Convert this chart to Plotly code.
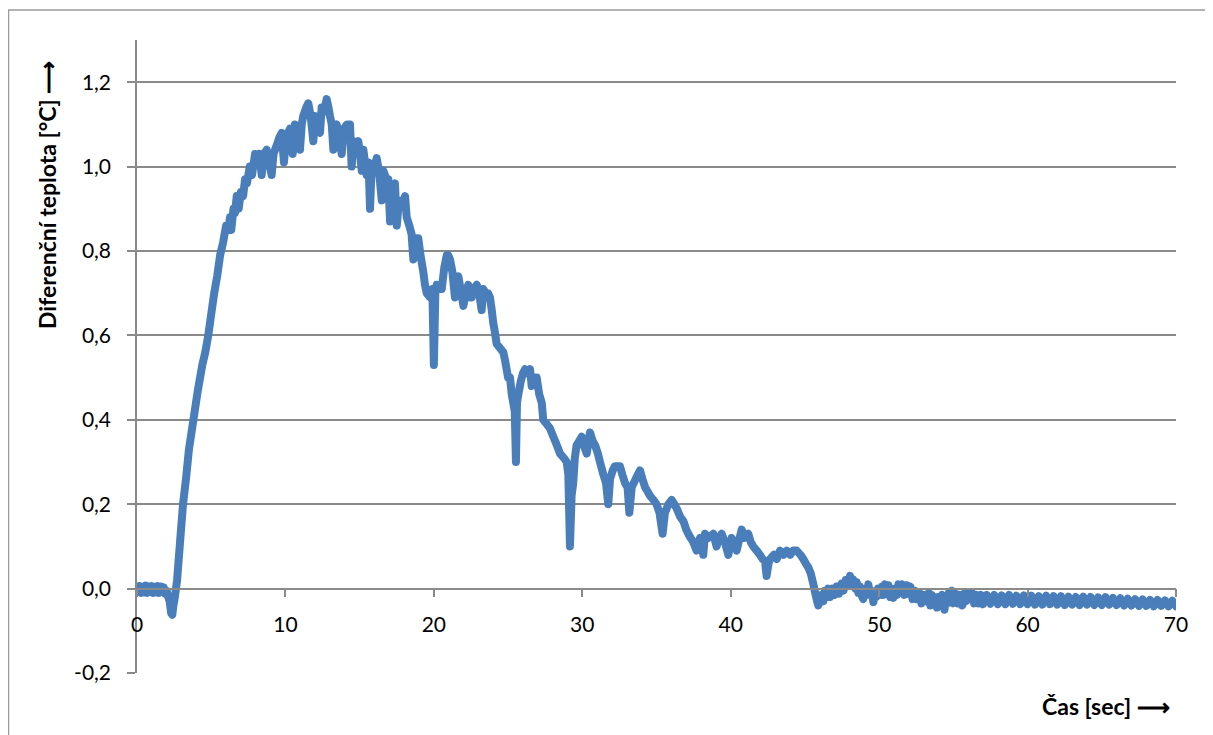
import plotly.graph_objects as go

# --- data ---
time_s = [
    0.0, 0.1, 0.2, 0.3, 0.4, 0.5, 0.6, 0.7, 0.8, 0.9, 1.0, 1.1, 1.2, 1.3, 1.4, 1.5, 1.6, 1.7,
    1.8, 1.9, 2.0, 2.1, 2.2, 2.3, 2.38, 2.45, 2.55, 2.7, 2.9,
    3.1, 3.3, 3.5, 3.8, 4.1, 4.4, 4.6, 4.8, 5.0, 5.2, 5.4, 5.6, 5.8, 6.0, 6.15, 6.27, 6.35,
    6.5, 6.6, 6.72, 6.85, 7.0, 7.15, 7.28, 7.4, 7.6, 7.75, 7.95, 8.1, 8.25, 8.4, 8.55, 8.74,
    8.9, 9.07, 9.2, 9.41, 9.6, 9.75, 9.9, 10.05, 10.31, 10.49, 10.64, 10.8, 10.98, 11.1, 11.2,
    11.4, 11.54, 11.7, 11.88, 11.99, 12.15, 12.33, 12.44, 12.6, 12.78, 12.9, 13.0, 13.12,
    13.23, 13.35, 13.45, 13.6, 13.79, 13.95, 14.15, 14.35, 14.46, 14.6, 14.75, 14.91, 15.03,
    15.14, 15.25, 15.47, 15.6, 15.7, 15.8, 16.0, 16.15, 16.3, 16.49, 16.6, 16.8, 16.93, 17.05,
    17.2, 17.38, 17.5, 17.65, 17.85, 18.06, 18.17, 18.35, 18.5, 18.62, 18.75, 18.95, 19.1,
    19.29, 19.4, 19.52, 19.74, 19.9, 20.0, 20.1, 20.19, 20.35, 20.53, 20.7, 20.87, 20.97,
    21.09, 21.25, 21.42, 21.55, 21.65, 21.8, 21.99, 22.15, 22.32, 22.45, 22.55, 22.7, 22.89,
    23.05, 23.22, 23.33, 23.5, 23.65, 23.78, 23.9, 24.0, 24.1, 24.23, 24.45, 24.68, 24.8,
    24.9, 25.0, 25.13, 25.25, 25.35, 25.45, 25.53, 25.6, 25.69, 25.85, 26.0, 26.14, 26.3,
    26.48, 26.59, 26.75, 26.93, 27.1, 27.27, 27.37, 27.6, 27.82, 28.05, 28.28, 28.5, 28.75,
    28.95, 29.06, 29.17, 29.28, 29.39, 29.5, 29.62, 29.8, 29.96, 30.1, 30.3, 30.52, 30.7,
    30.86, 31.05, 31.19, 31.42, 31.6, 31.75, 31.87, 32.05, 32.2, 32.4, 32.54, 32.7, 32.88,
    33.05, 33.17, 33.33, 33.6, 33.89, 34.05, 34.23, 34.4, 34.56, 34.8, 35.0, 35.2, 35.41,
    35.57, 35.8, 36.02, 36.2, 36.36, 36.6, 36.81, 37.0, 37.14, 37.3, 37.48, 37.7, 37.93,
    38.05, 38.15, 38.27, 38.5, 38.83, 39.05, 39.2, 39.39, 39.6, 39.84, 40.06, 40.2, 40.4,
    40.6, 40.74, 40.9, 41.18, 41.35, 41.52, 41.75, 41.97, 42.15, 42.31, 42.42, 42.55, 42.65,
    42.9, 43.1, 43.32, 43.55, 43.77, 44.0, 44.2, 44.44, 44.7, 44.89, 45.05, 45.23, 45.4,
    45.57, 45.75, 45.9, 46.0, 46.13, 46.25, 46.35, 46.5, 46.57, 46.7, 46.85, 47.0, 47.14,
    47.3, 47.48, 47.6, 47.75, 47.9, 48.04, 48.15, 48.25, 48.4, 48.49, 48.6, 48.7, 48.8,
    48.93, 49.05, 49.15, 49.27, 49.4, 49.5, 49.61, 49.7, 49.8, 49.93, 50.06, 50.2, 50.3,
    50.4, 50.51, 50.62, 50.75, 50.85, 50.96, 51.1, 51.2, 51.3, 51.4, 51.55, 51.7, 51.85,
    51.96, 52.1, 52.25, 52.4, 52.53, 52.7, 52.85, 53.0, 53.2, 53.35, 53.45, 53.55, 53.65,
    53.8, 53.9, 54.0, 54.1, 54.25, 54.4, 54.5, 54.6, 54.7, 54.8, 54.9, 55.0, 55.15, 55.3,
    55.45, 55.6, 55.75, 55.85, 55.95, 56.1, 56.25, 56.4, 56.55, 56.7, 56.85, 57.0, 57.25,
    57.5, 57.75, 58.0, 58.25, 58.5, 58.75, 59.0, 59.25, 59.5, 59.75, 60.0, 60.25, 60.5,
    60.75, 61.0, 61.25, 61.5, 61.75, 62.0, 62.25, 62.5, 62.75, 63.0, 63.25, 63.5, 63.75,
    64.0, 64.25, 64.5, 64.75, 65.0, 65.25, 65.5, 65.75, 66.0, 66.25, 66.5, 66.75, 67.0,
    67.25, 67.5, 67.75, 68.0, 68.25, 68.5, 68.75, 69.0, 69.25, 69.5, 69.75, 70.0,
]

diff_temp = [
    0.005, -0.008, 0.006, -0.01, 0.004, -0.009, 0.007, -0.01, 0.005, -0.008, 0.006, -0.01,
    0.004, -0.009, 0.006, -0.01, 0.005, -0.008, 0.003, -0.012, -0.005, -0.02, -0.03, -0.058,
    -0.062, -0.04, -0.02, 0.02, 0.11,
    0.2, 0.26, 0.33, 0.40, 0.47, 0.53, 0.56, 0.60, 0.65, 0.70, 0.74, 0.79, 0.82, 0.86, 0.85,
    0.88, 0.85, 0.90, 0.89, 0.93, 0.90, 0.94, 0.93, 0.97, 0.96, 1.00, 0.98, 1.03, 1.01, 1.03,
    0.98, 1.03, 1.04, 1.01, 0.98, 1.03, 1.05, 1.07, 1.08, 1.01, 1.07, 1.09, 1.03, 1.10, 1.08,
    1.04, 1.10, 1.12, 1.14, 1.15, 1.12, 1.06, 1.12, 1.10, 1.08, 1.14, 1.13, 1.16, 1.14, 1.12,
    1.10, 1.04, 1.09, 1.10, 1.08, 1.03, 1.09, 1.10, 1.10, 1.00, 1.06, 1.05, 1.06, 1.03, 0.99,
    1.04, 0.98, 1.01, 0.90, 0.99, 1.00, 1.02, 0.99, 0.92, 0.99, 0.97, 0.97, 0.87, 0.95, 0.96,
    0.86, 0.92, 0.91, 0.93, 0.88, 0.86, 0.84, 0.78, 0.83, 0.83, 0.79, 0.75, 0.72, 0.70, 0.69,
    0.71, 0.53, 0.70, 0.72, 0.71, 0.71, 0.76, 0.79, 0.79, 0.78, 0.75, 0.69, 0.73, 0.74, 0.71,
    0.67, 0.70, 0.72, 0.69, 0.69, 0.71, 0.72, 0.70, 0.66, 0.71, 0.70, 0.70, 0.69, 0.66, 0.63,
    0.61, 0.58, 0.57, 0.56, 0.54, 0.52, 0.50, 0.50, 0.46, 0.44, 0.42, 0.30, 0.44, 0.46, 0.49,
    0.51, 0.52, 0.51, 0.52, 0.48, 0.50, 0.50, 0.46, 0.44, 0.40, 0.39, 0.38, 0.36, 0.34, 0.32,
    0.31, 0.30, 0.27, 0.10, 0.22, 0.25, 0.31, 0.34, 0.35, 0.36, 0.34, 0.32, 0.37, 0.35, 0.34,
    0.32, 0.30, 0.27, 0.25, 0.20, 0.26, 0.28, 0.29, 0.29, 0.29, 0.27, 0.25, 0.24, 0.18, 0.24,
    0.26, 0.28, 0.26, 0.24, 0.23, 0.22, 0.21, 0.20, 0.18, 0.13, 0.18, 0.20, 0.21, 0.20, 0.19,
    0.17, 0.16, 0.14, 0.13, 0.12, 0.11, 0.09, 0.12, 0.11, 0.08, 0.13, 0.12, 0.13, 0.10, 0.12,
    0.13, 0.11, 0.08, 0.12, 0.11, 0.09, 0.12, 0.14, 0.12, 0.13, 0.11, 0.10, 0.09, 0.08, 0.07,
    0.065, 0.03, 0.06, 0.07, 0.08, 0.07, 0.09, 0.08, 0.09, 0.08, 0.09, 0.09, 0.08, 0.07, 0.06,
    0.05, 0.035, 0.01, -0.02, -0.04, -0.03, -0.015, -0.03, -0.005, -0.02, 0.0, -0.02, 0.0,
    -0.015, 0.005, -0.012, 0.012, -0.005, 0.02, 0.01, 0.03, 0.01, 0.022, 0.0, 0.015, -0.01,
    0.005, -0.015, -0.025, 0.0, -0.015, 0.01, -0.015, -0.005, -0.032, -0.01, -0.02, 0.0,
    -0.015, 0.005, -0.015, 0.01, -0.01, 0.008, -0.02, 0.0, -0.022, 0.0, -0.015, 0.01, -0.01,
    0.01, -0.015, 0.008, -0.012, 0.005, -0.025, -0.005, -0.025, -0.01, -0.035, -0.015, -0.03,
    -0.01, -0.04, -0.015, -0.035, -0.02, -0.045, -0.02, -0.035, -0.015, -0.05, -0.02, -0.035,
    -0.01, -0.03, -0.005, -0.035, -0.012, -0.035, -0.015, -0.04, -0.012, -0.03, -0.008,
    -0.025, -0.01, -0.035, -0.015, -0.035, -0.015, -0.037, -0.015, -0.036, -0.015, -0.037,
    -0.016, -0.037, -0.015, -0.036, -0.017, -0.037, -0.016, -0.037, -0.017, -0.038, -0.018,
    -0.038, -0.017, -0.037, -0.018, -0.038, -0.018, -0.039, -0.019, -0.038, -0.02, -0.039,
    -0.019, -0.038, -0.02, -0.039, -0.021, -0.039, -0.02, -0.038, -0.022, -0.039, -0.023,
    -0.04, -0.024, -0.04, -0.025, -0.041, -0.026, -0.041, -0.027, -0.042, -0.027, -0.041,
    -0.028, -0.042, -0.029, -0.042, -0.029, -0.041,
]

x_ticks = [0, 10, 20, 30, 40, 50, 60, 70]
x_tick_labels = ["0", "10", "20", "30", "40", "50", "60", "70"]
y_ticks = [-0.2, 0.0, 0.2, 0.4, 0.6, 0.8, 1.0, 1.2]
y_tick_labels = ["-0,2", "0,0", "0,2", "0,4", "0,6", "0,8", "1,0", "1,2"]

x_title = "Čas [sec] ⟶"
y_title = "Diferenční teplota [°C] ⟶"

FONT = "Lato"
GRID = "#8a8a8a"
LINE_COLOR = "#4a7ebb"

fig = go.Figure()
fig.add_trace(go.Scatter(
    x=time_s, y=diff_temp, mode="lines",
    line=dict(color=LINE_COLOR, width=8, simplify=False),
    showlegend=False, hoverinfo="skip",
))

fig.update_layout(
    width=1205, height=727,
    margin=dict(l=129, r=37, t=32, b=62),
    paper_bgcolor="white", plot_bgcolor="white",
    font=dict(family=FONT, size=21, color="#000000"),
    xaxis=dict(
        range=[0, 70], tickvals=x_ticks, ticktext=x_tick_labels,
        showgrid=False, zeroline=False,
        showline=True, linecolor=GRID, linewidth=1.5,
        ticks="outside", ticklen=8, tickwidth=1.5, tickcolor=GRID,
        anchor="free", position=0.2 / 1.5,
        ticklabelstandoff=9,
        tickfont=dict(family=FONT, size=21),
    ),
    yaxis=dict(
        range=[-0.2, 1.3], tickvals=y_ticks, ticktext=y_tick_labels,
        showgrid=True, gridcolor=GRID, gridwidth=1.5, zeroline=False,
        showline=True, linecolor=GRID, linewidth=1.5,
        ticks="outside", ticklen=8, tickwidth=1.5, tickcolor=GRID,
        ticklabelstandoff=12,
        tickfont=dict(family=FONT, size=21),
    ),
)

# outer chart frame
fig.add_shape(type="rect", xref="paper", yref="paper",
              x0=-0.1237, x1=1.0318, y0=-0.12, y1=1.0474,
              line=dict(color="#9a9a9a", width=1.5), fillcolor="rgba(0,0,0,0)", layer="below")

fig.add_annotation(text="<b>" + y_title + "</b>", xref="paper", yref="paper",
                   x=-0.0866, y=0.755, textangle=-90, showarrow=False,
                   font=dict(family=FONT, size=23), xanchor="center", yanchor="middle")
fig.add_annotation(text="<b>" + x_title + "</b>", xref="paper", yref="paper",
                   x=0.9962, y=-0.0521, showarrow=False,
                   font=dict(family=FONT, size=23), xanchor="right", yanchor="middle")

# round line joins/caps, like the spreadsheet renderer
post_js = (
    "document.querySelectorAll('.scatterlayer path.js-line').forEach(function(p){"
    "p.style.strokeLinejoin='round';p.style.strokeLinecap='round';});"
)

fig.write_html("out.html", post_script=post_js)
